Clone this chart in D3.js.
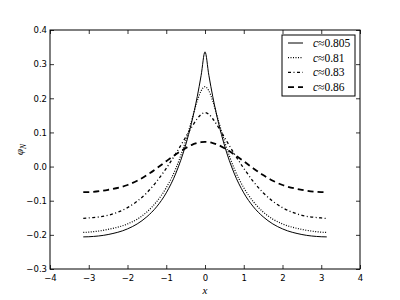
<!DOCTYPE html>
<html lang="en">
<head>
  <meta charset="UTF-8" />
  <title>phi_N</title>
  <style>
    html, body { margin: 0; background: #fff; }
    .tick text { font-family: "DejaVu Sans", sans-serif; font-size: 8.5px; fill: #000; }
    .legend text { font-family: "Liberation Serif", serif; font-size: 11.5px; }
  </style>
</head>
<body>
  <svg id="chart" width="400" height="300"></svg>
  <script src="https://cdn.jsdelivr.net/npm/d3@7/dist/d3.min.js"></script>
  <script>
    const xs = [-3.1416, -3, -2.5, -2, -1.75, -1.5, -1.25, -1, -0.75, -0.5, -0.35, -0.2, -0.1, 0,
                0.1, 0.2, 0.35, 0.5, 0.75, 1, 1.25, 1.5, 1.75, 2, 2.5, 3, 3.1416];

    const phi805 = [-0.206, -0.2055, -0.199, -0.1825, -0.168, -0.147, -0.118, -0.077, -0.019, 0.063, 0.127, 0.205, 0.267, 0.336,
                    0.267, 0.205, 0.127, 0.063, -0.019, -0.077, -0.118, -0.147, -0.168, -0.1825, -0.199, -0.2055, -0.206];
    const phi81 = [-0.193, -0.192, -0.184, -0.168, -0.154, -0.133, -0.103, -0.062, -0.005, 0.075, 0.133, 0.192, 0.222, 0.234,
                   0.222, 0.192, 0.133, 0.075, -0.005, -0.062, -0.103, -0.133, -0.154, -0.168, -0.184, -0.192, -0.193];
    const phi83 = [-0.152, -0.1505, -0.1428, -0.1203, -0.1015, -0.0765, -0.044, -0.005, 0.0385, 0.086, 0.1145, 0.140, 0.153, 0.158,
                   0.153, 0.140, 0.1145, 0.086, 0.0385, -0.005, -0.044, -0.0765, -0.1015, -0.1203, -0.1428, -0.1505, -0.152];
    const phi86 = [-0.075, -0.0748, -0.068, -0.054, -0.0415, -0.025, -0.0055, 0.0157, 0.036, 0.054, 0.063, 0.069, 0.0715, 0.0725,
                   0.0715, 0.069, 0.063, 0.054, 0.036, 0.0157, -0.0055, -0.025, -0.0415, -0.054, -0.068, -0.0748, -0.075];

    const labels = ["0.805", "0.81", "0.83", "0.86"];
    const xTicks = [-4, -3, -2, -1, 0, 1, 2, 3, 4];
    const yTicks = [-0.3, -0.2, -0.1, 0.0, 0.1, 0.2, 0.3, 0.4];

    const styles = [
      { dash: null, w: 1 },
      { dash: "1,1.5", w: 1.2 },
      { dash: "3,2.5,1,2.5", w: 1.3 },
      { dash: "6,4", w: 1.8 }
    ];

    const svg = d3.select("#chart"),
          margin = {top: 30, right: 40, bottom: 31, left: 50},
          width = +svg.attr("width") - margin.left - margin.right,
          height = +svg.attr("height") - margin.top - margin.bottom;

    const g = svg.append("g").attr("transform", `translate(${margin.left},${margin.top})`);

    const x = d3.scaleLinear().domain([-4, 4]).range([0, width]);
    const y = d3.scaleLinear().domain([-0.3, 0.4]).range([height, 0]);

    const minus = s => s.replace("-", "\u2212");

    // axes, ticks pointing inward like matplotlib classic
    const axisStyle = sel => {
      sel.select(".domain").remove();
      sel.selectAll(".tick line").attr("stroke", "#000").attr("stroke-width", 0.8);
    };
    g.append("g").attr("transform", `translate(0,${height})`)
      .call(d3.axisBottom(x).tickValues(xTicks).tickSize(-4).tickPadding(6).tickFormat(d => minus(d3.format("d")(d))))
      .call(axisStyle);
    g.append("g")
      .call(d3.axisTop(x).tickValues(xTicks).tickSize(-4).tickFormat(""))
      .call(axisStyle);
    g.append("g")
      .call(d3.axisLeft(y).tickValues(yTicks).tickSize(-4).tickPadding(3).tickFormat(d => minus(d3.format(".1f")(d))))
      .call(axisStyle);
    g.append("g").attr("transform", `translate(${width},0)`)
      .call(d3.axisRight(y).tickValues(yTicks).tickSize(-4).tickFormat(""))
      .call(axisStyle);

    g.append("rect")
      .attr("width", width).attr("height", height)
      .attr("fill", "none").attr("stroke", "#000").attr("stroke-width", 1);

    // curves
    const series = [phi805, phi81, phi83, phi86];
    const line = d3.line()
      .x((d, i) => x(xs[i]))
      .y(d => y(d))
      .curve(d3.curveMonotoneX);

    series.forEach((s, i) => {
      g.append("path")
        .datum(s)
        .attr("fill", "none")
        .attr("stroke", "#000")
        .attr("stroke-width", styles[i].w)
        .attr("stroke-dasharray", styles[i].dash)
        .attr("d", line);
    });

    // axis labels
    svg.append("text")
      .attr("x", margin.left + width / 2).attr("y", 294)
      .attr("text-anchor", "middle")
      .style("font-family", "Liberation Serif, serif").style("font-style", "italic").style("font-size", "11px")
      .text("x");

    const yl = svg.append("text")
      .attr("transform", `translate(23,${margin.top + height / 2}) rotate(-90)`)
      .attr("text-anchor", "middle")
      .style("font-family", "Liberation Serif, serif").style("font-size", "11px");
    yl.append("tspan").style("font-style", "italic").text("\u03C6");
    yl.append("tspan").style("font-style", "italic").style("font-size", "7.5px").attr("dy", 2.5).text("N");

    // legend
    const legend = svg.append("g").attr("class", "legend")
      .attr("transform", "translate(282,35)");
    legend.append("rect")
      .attr("width", 73).attr("height", 61)
      .attr("fill", "#fff").attr("stroke", "#000").attr("stroke-width", 1);

    labels.forEach((lab, i) => {
      const row = legend.append("g").attr("transform", `translate(0,${8 + i * 14.7})`);
      row.append("line")
        .attr("x1", 6).attr("x2", 21).attr("y1", 0).attr("y2", 0)
        .attr("stroke", "#000")
        .attr("stroke-width", styles[i].w)
        .attr("stroke-dasharray", styles[i].dash);
      const t = row.append("text").attr("x", 31).attr("y", 4);
      t.append("tspan").style("font-style", "italic").text("c");
      t.append("tspan").text("\u2248" + lab);
    });
  </script>
</body>
</html>
